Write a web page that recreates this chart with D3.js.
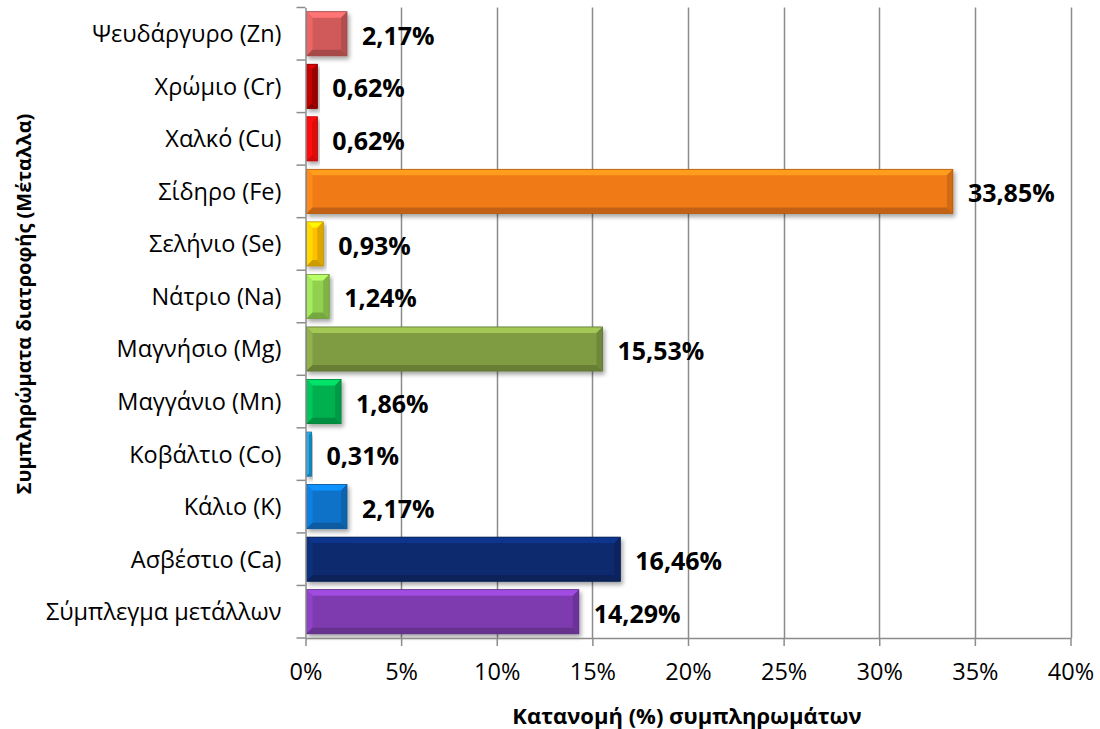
<!DOCTYPE html>
<html>
<head>
<meta charset="utf-8">
<script src="https://cdn.jsdelivr.net/npm/d3@7"></script>
<style>
  html, body { margin: 0; padding: 0; background: #fff; }
  svg { display: block; font-family: "Open Sans", "Noto Sans", sans-serif; }
</style>
</head>
<body>
<svg id="chart" width="1100" height="729"></svg>
<script>
// Dietary supplement metals: share (%) of all supplements, listed top to bottom
const categories = [
  "Ψευδάργυρο (Zn)", "Χρώμιο (Cr)", "Χαλκό (Cu)", "Σίδηρο (Fe)",
  "Σελήνιο (Se)", "Νάτριο (Na)", "Μαγνήσιο (Mg)", "Μαγγάνιο (Mn)",
  "Κοβάλτιο (Co)", "Κάλιο (K)", "Ασβέστιο (Ca)", "Σύμπλεγμα μετάλλων"
];
const values = [2.17, 0.62, 0.62, 33.85, 0.93, 1.24, 15.53, 1.86, 0.31, 2.17, 16.46, 14.29];
const barColors = [
  "#D05A5A", "#B00000", "#FF0A0A", "#F07A17",
  "#FFC000", "#92D050", "#7F9C43", "#00B050",
  "#1C9AD6", "#0A72C8", "#0A2A6E", "#7E3BB0"
];
const xTicks = [0, 5, 10, 15, 20, 25, 30, 35, 40];
const xTitle = "Κατανομή (%) συμπληρωμάτων";
const yTitle = "Συμπληρώματα διατροφής (Μέταλλα)";

const svg = d3.select("#chart");
const plot = { left: 305.5, right: 1070.5, top: 7.5, bottom: 638 };
const axisGrey = "#8c8c8c";

const x = d3.scaleLinear().domain([0, 40]).range([plot.left, plot.right]);
const y = d3.scaleBand().domain(categories).range([plot.top, plot.bottom])
  .paddingInner(0.16).paddingOuter(0.08);

const fmt = v => d3.format(".2f")(v).replace(".", ",") + "%";

// Drop shadow under bars
const defs = svg.append("defs");
const f = defs.append("filter").attr("id", "shadow")
  .attr("x", "-20%").attr("y", "-20%").attr("width", "140%").attr("height", "160%");
f.append("feDropShadow").attr("dx", 2).attr("dy", 3).attr("stdDeviation", 2)
  .attr("flood-color", "#000").attr("flood-opacity", 0.35);

// Vertical gridlines
svg.append("g").selectAll("line").data(xTicks.slice(1)).join("line")
  .attr("x1", d => Math.round(x(d)) + 0.5).attr("x2", d => Math.round(x(d)) + 0.5)
  .attr("y1", plot.top).attr("y2", plot.bottom)
  .attr("stroke", axisGrey).attr("stroke-width", 1.5);

// Bars with a bevelled look
const bars = svg.append("g").selectAll("g").data(categories).join("g")
  .attr("filter", "url(#shadow)");

bars.each(function (c, i) {
  const g = d3.select(this);
  const x0 = x(0) + 1, x1 = x(values[i]);
  const y0 = y(c), y1 = y(c) + y.bandwidth();
  const col = d3.color(barColors[i]);
  const b = Math.min(6, (x1 - x0) / 2, (y1 - y0) / 2);
  g.append("rect").attr("x", x0).attr("y", y0)
    .attr("width", x1 - x0).attr("height", y1 - y0).attr("fill", col);
  const pts = a => a.map(p => p.join(",")).join(" ");
  // top facet
  g.append("polygon").attr("points", pts([[x0, y0], [x1, y0], [x1 - b, y0 + b], [x0 + b, y0 + b]]))
    .attr("fill", col.brighter(0.7));
  // left facet
  g.append("polygon").attr("points", pts([[x0, y0], [x0 + b, y0 + b], [x0 + b, y1 - b], [x0, y1]]))
    .attr("fill", col.brighter(0.35));
  // bottom facet
  g.append("polygon").attr("points", pts([[x0, y1], [x0 + b, y1 - b], [x1 - b, y1 - b], [x1, y1]]))
    .attr("fill", col.darker(0.6));
  // right facet
  g.append("polygon").attr("points", pts([[x1, y0], [x1, y1], [x1 - b, y1 - b], [x1 - b, y0 + b]]))
    .attr("fill", col.darker(0.4));
  g.append("rect").attr("x", x0).attr("y", y0)
    .attr("width", x1 - x0).attr("height", y1 - y0)
    .attr("fill", "none").attr("stroke", col.darker(0.8)).attr("stroke-width", 0.8);
});

// Value labels
svg.append("g").selectAll("text").data(categories).join("text")
  .attr("x", (c, i) => x(values[i]) + 15)
  .attr("y", c => y(c) + y.bandwidth() / 2 + 11)
  .attr("font-size", 25).attr("font-weight", "bold").attr("fill", "#000")
  .text((c, i) => fmt(values[i]));

// Y axis
const yAxis = svg.append("g").attr("transform", `translate(${plot.left},0)`)
  .call(d3.axisLeft(y).tickSizeOuter(0).tickSize(0).tickPadding(24));
yAxis.select(".domain").attr("stroke", axisGrey).attr("stroke-width", 1.5);
yAxis.selectAll("text").attr("font-size", 23.5).attr("fill", "#000").attr("dy", "0.36em")
  .attr("font-family", "'Open Sans', sans-serif");
// category separator ticks
const seps = categories.map(c => y(c) - y.step() * y.paddingInner() / 2).concat([plot.bottom]);
svg.append("g").selectAll("line").data(seps).join("line")
  .attr("x1", plot.left - 9).attr("x2", plot.left)
  .attr("y1", d => d).attr("y2", d => d)
  .attr("stroke", axisGrey).attr("stroke-width", 1.5);

// X axis
const xAxis = svg.append("g").attr("transform", `translate(0,${plot.bottom})`)
  .call(d3.axisBottom(x).tickValues(xTicks).tickFormat(d => d + "%").tickSize(8).tickSizeOuter(0).tickPadding(17));
xAxis.select(".domain").attr("stroke", axisGrey).attr("stroke-width", 1.5);
xAxis.selectAll(".tick line").attr("stroke", axisGrey).attr("stroke-width", 1.5);
xAxis.selectAll("text").attr("font-size", 23.5).attr("fill", "#000")
  .attr("font-family", "'Open Sans', sans-serif");

// Axis titles
svg.append("text").attr("x", 687).attr("y", 724).attr("text-anchor", "middle")
  .attr("font-size", 22).attr("font-weight", "bold").text(xTitle);
svg.append("text").attr("transform", "translate(31,304) rotate(-90)")
  .attr("text-anchor", "middle").attr("font-size", 20).attr("font-weight", "bold").text(yTitle);
</script>
</body>
</html>
